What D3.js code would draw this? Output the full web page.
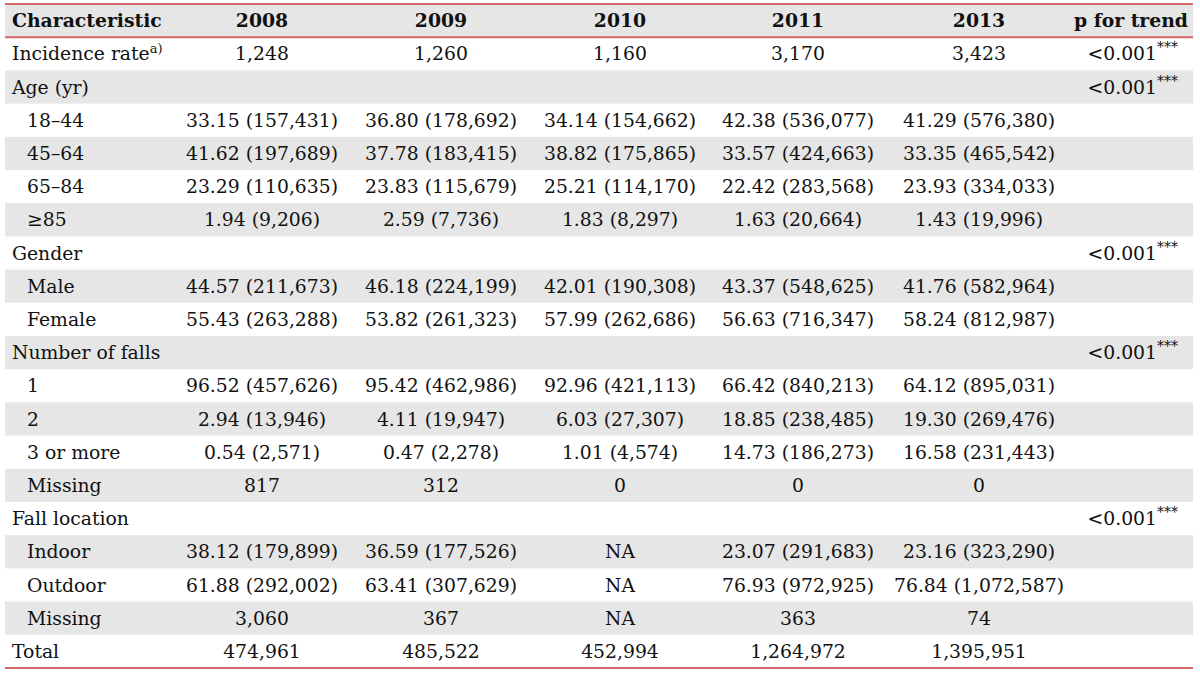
<!DOCTYPE html>
<html><head><meta charset="utf-8">
<script src="https://cdn.jsdelivr.net/npm/d3@7"></script>
<style>body{margin:0;background:#fff}</style>
</head><body>
<svg id="c" width="1200" height="674"></svg>
<script>
const columns = ["Characteristic","2008","2009","2010","2011","2013","p for trend"];
const rowLabels = ["Incidence rate","Age (yr)","18–44","45–64","65–84","≥85","Gender","Male","Female","Number of falls","1","2","3 or more","Missing","Fall location","Indoor","Outdoor","Missing","Total"];
const indented = [false,false,true,true,true,true,false,true,true,false,true,true,true,true,false,true,true,true,false];
const v2008 = ["1,248","","33.15 (157,431)","41.62 (197,689)","23.29 (110,635)","1.94 (9,206)","","44.57 (211,673)","55.43 (263,288)","","96.52 (457,626)","2.94 (13,946)","0.54 (2,571)","817","","38.12 (179,899)","61.88 (292,002)","3,060","474,961"];
const v2009 = ["1,260","","36.80 (178,692)","37.78 (183,415)","23.83 (115,679)","2.59 (7,736)","","46.18 (224,199)","53.82 (261,323)","","95.42 (462,986)","4.11 (19,947)","0.47 (2,278)","312","","36.59 (177,526)","63.41 (307,629)","367","485,522"];
const v2010 = ["1,160","","34.14 (154,662)","38.82 (175,865)","25.21 (114,170)","1.83 (8,297)","","42.01 (190,308)","57.99 (262,686)","","92.96 (421,113)","6.03 (27,307)","1.01 (4,574)","0","","NA","NA","NA","452,994"];
const v2011 = ["3,170","","42.38 (536,077)","33.57 (424,663)","22.42 (283,568)","1.63 (20,664)","","43.37 (548,625)","56.63 (716,347)","","66.42 (840,213)","18.85 (238,485)","14.73 (186,273)","0","","23.07 (291,683)","76.93 (972,925)","363","1,264,972"];
const v2013 = ["3,423","","41.29 (576,380)","33.35 (465,542)","23.93 (334,033)","1.43 (19,996)","","41.76 (582,964)","58.24 (812,987)","","64.12 (895,031)","19.30 (269,476)","16.58 (231,443)","0","","23.16 (323,290)","76.84 (1,072,587)","74","1,395,951"];
const pTrend = ["<0.001","<0.001","","","","","<0.001","","","<0.001","","","","","<0.001","","","",""];
const superscripts = ["a)","","","","","","","","","","","","","","","","","",""];

const svg = d3.select("#c");
const font = "'DejaVu Serif', serif";
const fs = 18.8;
const red = "#d8646c";
const gray = "#e6e6e6";
const ink = "#111";

const x0 = 5, x1 = 1193;
const y = d3.scaleBand().domain(d3.range(rowLabels.length + 1)).range([4, 668]).padding(0);
const xc = d3.scaleOrdinal().domain(columns).range([12, 262, 441, 620, 798, 979, 1188]);

// stripes
const allRows = d3.range(rowLabels.length + 1);
svg.selectAll("rect.s").data(allRows.filter(i => i % 2 === 0)).join("rect")
  .attr("x", x0).attr("width", x1 - x0)
  .attr("y", i => y(i)).attr("height", y.bandwidth())
  .attr("fill", gray);

// header
svg.selectAll("text.h").data(columns).join("text")
  .attr("x", d => xc(d)).attr("y", y(0) + y.bandwidth()/2)
  .attr("dy", "0.35em")
  .attr("text-anchor", (d,i) => i === 0 ? "start" : (i === columns.length-1 ? "end" : "middle"))
  .attr("font-family", font).attr("font-weight", "bold").attr("font-size", fs).attr("fill", ink)
  .text(d => d);

// labels
const lab = svg.selectAll("text.l").data(rowLabels).join("text")
  .attr("x", (d,i) => xc("Characteristic") + (indented[i] ? 15 : 0))
  .attr("y", (d,i) => y(i+1) + y.bandwidth()/2).attr("dy", "0.35em")
  .attr("font-family", font).attr("font-size", fs).attr("fill", ink);
lab.append("tspan").text(d => d);
lab.append("tspan").attr("baseline-shift", "super").attr("font-size", 13).text((d,i) => superscripts[i]);

const series = [["2008", v2008],["2009", v2009],["2010", v2010],["2011", v2011],["2013", v2013]];
series.forEach(([k, arr]) => {
  svg.selectAll(null).data(arr).join("text")
    .attr("x", xc(k)).attr("y", (d,i) => y(i+1) + y.bandwidth()/2).attr("dy", "0.35em")
    .attr("text-anchor", "middle")
    .attr("font-family", font).attr("font-size", fs).attr("fill", ink)
    .text(d => d);
});

const pt = svg.selectAll(null).data(pTrend).join("text")
  .attr("x", xc("p for trend") - 10).attr("y", (d,i) => y(i+1) + y.bandwidth()/2).attr("dy", "0.35em")
  .attr("text-anchor", "end")
  .attr("font-family", font).attr("font-size", fs).attr("fill", ink);
pt.append("tspan").text(d => d);
pt.append("tspan").attr("baseline-shift", "super").attr("font-size", 14).text(d => d ? "***" : "");

// rules
[y(0), y(1), y(rowLabels.length) + y.bandwidth()].forEach(yy => {
  svg.append("line").attr("x1", x0).attr("x2", x1).attr("y1", yy).attr("y2", yy)
    .attr("stroke", red).attr("stroke-width", 2);
});
</script>
</body></html>
